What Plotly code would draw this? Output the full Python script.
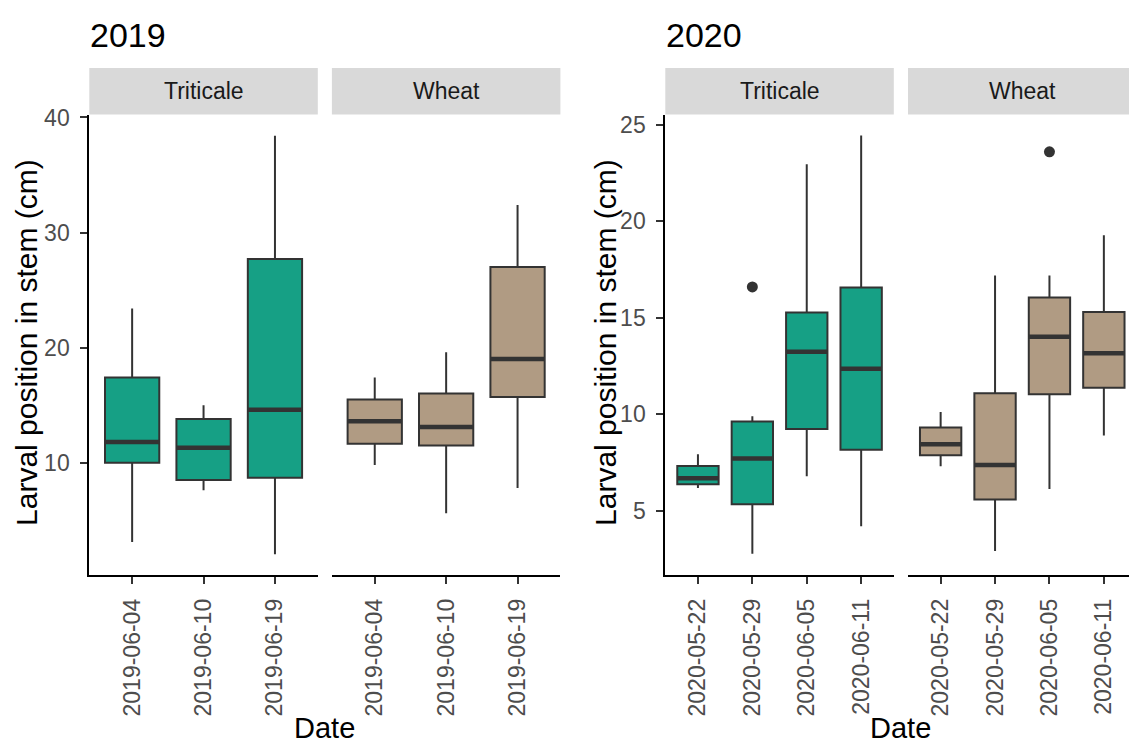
import plotly.graph_objects as go

# ---- data: larval position in stem (cm), box statistics per sampling date ----
dates_2019 = ["2019-06-04", "2019-06-10", "2019-06-19"]
tri_2019_low = [3.1, 7.6, 2.05]
tri_2019_q1 = [10.0, 8.5, 8.7]
tri_2019_med = [11.8, 11.3, 14.6]
tri_2019_q3 = [17.4, 13.8, 27.7]
tri_2019_high = [23.4, 15.0, 38.4]

whe_2019_low = [9.8, 5.6, 7.8]
whe_2019_q1 = [11.65, 11.5, 15.7]
whe_2019_med = [13.6, 13.1, 19.0]
whe_2019_q3 = [15.5, 16.0, 27.0]
whe_2019_high = [17.4, 19.6, 32.4]

dates_2020 = ["2020-05-22", "2020-05-29", "2020-06-05", "2020-06-11"]
tri_2020_low = [6.19, 2.78, 6.79, 4.2]
tri_2020_q1 = [6.38, 5.34, 9.24, 8.17]
tri_2020_med = [6.69, 7.72, 13.25, 12.37]
tri_2020_q3 = [7.33, 9.63, 15.28, 16.57]
tri_2020_high = [7.94, 9.9, 22.96, 24.44]
tri_2020_out_date = ["2020-05-29"]
tri_2020_out_val = [16.6]

whe_2020_low = [7.31, 2.92, 6.14, 8.91]
whe_2020_q1 = [7.88, 5.59, 11.04, 11.38]
whe_2020_med = [8.45, 7.38, 14.02, 13.17]
whe_2020_q3 = [9.32, 11.09, 16.06, 15.3]
whe_2020_high = [10.12, 17.2, 17.2, 19.28]
whe_2020_out_date = ["2020-06-05"]
whe_2020_out_val = [23.6]

# ---- styling ----
W, H = 1129, 746
GREEN = "#16A085"
TAN = "#B09B83"
EDGE = "#333333"
BOX_W = 0.76
FONT = "Liberation Sans, Arial, sans-serif"


def px_x(p):
    return p / W


def px_y(p):
    return 1 - p / H


fig = go.Figure()


def add_facet(dates, low, q1, med, q3, high, color, xa, ya, out_dates=(), out_vals=()):
    pos = list(range(len(dates)))
    fig.add_trace(go.Box(
        x=pos, q1=q1, median=med, q3=q3, lowerfence=low, upperfence=high,
        width=BOX_W, whiskerwidth=0, fillcolor=color,
        line=dict(color=EDGE, width=2), boxpoints=False,
        xaxis=xa, yaxis=ya, showlegend=False, hoverinfo="skip",
    ))
    # thicker median bars
    mx, my = [], []
    for p, m in zip(pos, med):
        mx += [p - BOX_W / 2, p + BOX_W / 2, None]
        my += [m, m, None]
    fig.add_trace(go.Scatter(
        x=mx, y=my, mode="lines", line=dict(color=EDGE, width=4.5),
        xaxis=xa, yaxis=ya, showlegend=False, hoverinfo="skip",
    ))
    if out_dates:
        fig.add_trace(go.Scatter(
            x=[dates.index(d) for d in out_dates], y=list(out_vals), mode="markers",
            marker=dict(color=EDGE, size=11),
            xaxis=xa, yaxis=ya, showlegend=False, hoverinfo="skip",
        ))


add_facet(dates_2019, tri_2019_low, tri_2019_q1, tri_2019_med, tri_2019_q3, tri_2019_high,
          GREEN, "x", "y")
add_facet(dates_2019, whe_2019_low, whe_2019_q1, whe_2019_med, whe_2019_q3, whe_2019_high,
          TAN, "x2", "y")
add_facet(dates_2020, tri_2020_low, tri_2020_q1, tri_2020_med, tri_2020_q3, tri_2020_high,
          GREEN, "x3", "y2", tri_2020_out_date, tri_2020_out_val)
add_facet(dates_2020, whe_2020_low, whe_2020_q1, whe_2020_med, whe_2020_q3, whe_2020_high,
          TAN, "x4", "y2", whe_2020_out_date, whe_2020_out_val)

tickfont = dict(family=FONT, size=23, color="#4D4D4D")

xcommon = dict(showline=True, linecolor="black", linewidth=2, ticks="outside",
               ticklen=7, tickwidth=2, tickcolor=EDGE, tickangle=-90, tickfont=tickfont,
               showgrid=False, zeroline=False, fixedrange=True, ticklabelstandoff=6)
ycommon = dict(showline=True, linecolor="black", linewidth=2, ticks="outside",
               ticklen=7, tickwidth=2, tickcolor=EDGE, tickfont=tickfont,
               showgrid=False, zeroline=False, fixedrange=True, ticklabelstandoff=6)

plot_top, plot_bot = 106, 572.3
ydom = [px_y(plot_bot), px_y(plot_top)]

unit20 = 228.5 / 4.2
fig.update_layout(
    width=W, height=H, margin=dict(l=0, r=0, t=0, b=0),
    paper_bgcolor="white", plot_bgcolor="white",
    font=dict(family=FONT),
    xaxis=dict(domain=[px_x(89.3), px_x(317.8)], range=[-0.6, 2.6], anchor="y",
               tickvals=[0, 1, 2], ticktext=dates_2019, **xcommon),
    xaxis2=dict(domain=[px_x(331.9), px_x(560.4)], range=[-0.6, 2.6], anchor="y",
                tickvals=[0, 1, 2], ticktext=dates_2019, **xcommon),
    xaxis3=dict(domain=[px_x(665.3), px_x(893.8)], range=[-0.6, 3.6], anchor="y2",
                tickvals=[0, 1, 2, 3], ticktext=dates_2020, **xcommon),
    xaxis4=dict(domain=[px_x(908), 1.0], range=[-0.6, -0.6 + (W - 908) / unit20], anchor="y2",
                tickvals=[0, 1, 2, 3], ticktext=dates_2020, **xcommon),
    yaxis=dict(domain=ydom, range=[0.27, 40.25], anchor="x",
               tickvals=[10, 20, 30, 40], **ycommon),
    yaxis2=dict(domain=ydom, range=[1.70, 25.53], anchor="x3",
                tickvals=[5, 10, 15, 20, 25], **ycommon),
)

# facet strips
strip_top, strip_bot = 58.7, 106
strips = [
    (89.3, 317.8, "Triticale"),
    (331.9, 560.4, "Wheat"),
    (665.3, 893.8, "Triticale"),
    (908, 908 + 228.5, "Wheat"),
]
shapes = []
annotations = []
for x0, x1, label in strips:
    shapes.append(dict(type="rect", xref="paper", yref="paper",
                       x0=px_x(x0), x1=min(px_x(x1), 1.0),
                       y0=px_y(strip_bot), y1=px_y(strip_top),
                       fillcolor="#D9D9D9", line=dict(width=0), layer="below"))
    annotations.append(dict(text=label, xref="paper", yref="paper",
                            x=px_x((x0 + x1) / 2), y=px_y((strip_top + strip_bot) / 2),
                            xanchor="center", yanchor="middle", showarrow=False,
                            font=dict(family=FONT, size=23, color="#1A1A1A")))

# panel titles
for x0, text in [(88, "2019"), (664, "2020")]:
    annotations.append(dict(text=text, xref="paper", yref="paper",
                            x=px_x(x0), y=px_y(25), xanchor="left", yanchor="middle",
                            showarrow=False, font=dict(family=FONT, size=34, color="black")))

# axis titles
for xc in (26.5, 605.5):
    annotations.append(dict(text="Larval position in stem (cm)", xref="paper", yref="paper",
                            x=px_x(xc), y=px_y(337), xanchor="center", yanchor="middle",
                            textangle=-90, showarrow=False,
                            font=dict(family=FONT, size=30, color="black")))
for xc in (324.8, 900.5):
    annotations.append(dict(text="Date", xref="paper", yref="paper",
                            x=px_x(xc), y=0.0, xanchor="center", yanchor="bottom",
                            showarrow=False, font=dict(family=FONT, size=29, color="black")))

fig.update_layout(shapes=shapes, annotations=annotations)

fig.write_html("out.html")
